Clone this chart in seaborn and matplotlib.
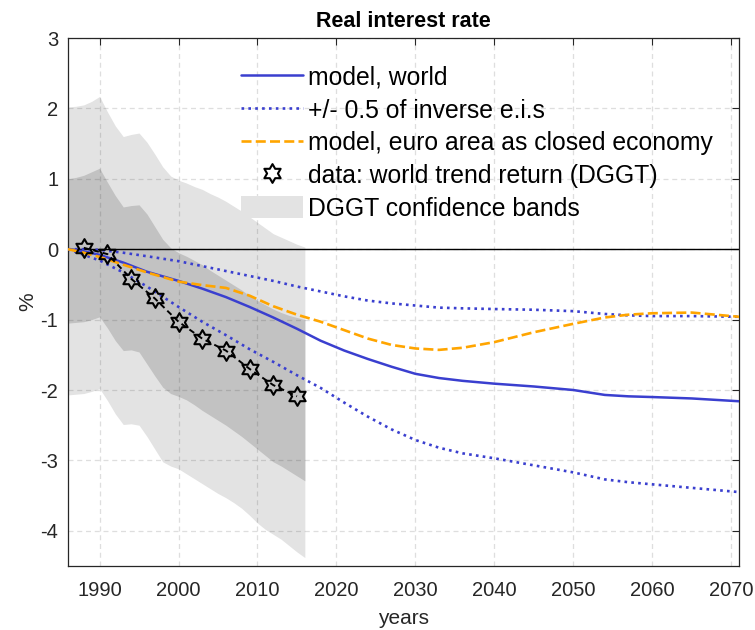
import matplotlib
matplotlib.use("Agg")
import matplotlib.pyplot as plt
import seaborn as sns
from matplotlib.path import Path
from matplotlib.lines import Line2D
from matplotlib.patches import Patch

# ---- data -------------------------------------------------------------
band_years = list(range(1986, 2017))
outer_hi = [2.02, 2.03, 2.05, 2.10, 2.17, 1.95, 1.75, 1.60, 1.63, 1.65, 1.52,
            1.35, 1.17, 1.04, 0.98, 0.94, 0.89, 0.85, 0.79, 0.74, 0.68, 0.61,
            0.54, 0.46, 0.38, 0.30, 0.22, 0.17, 0.12, 0.07, 0.03]
inner_hi = [1.00, 1.02, 1.05, 1.10, 1.15, 0.95, 0.76, 0.60, 0.62, 0.63, 0.50,
            0.32, 0.14, 0.02, -0.05, -0.10, -0.16, -0.22, -0.30, -0.37, -0.44,
            -0.51, -0.58, -0.66, -0.73, -0.79, -0.85, -0.90, -0.94, -0.97, -1.00]
inner_lo = [-1.05, -1.04, -1.03, -1.00, -0.96, -1.12, -1.30, -1.44, -1.43, -1.46,
            -1.63, -1.80, -1.96, -2.05, -2.09, -2.14, -2.21, -2.29, -2.36, -2.43,
            -2.50, -2.58, -2.66, -2.75, -2.84, -2.93, -3.02, -3.08, -3.15, -3.22, -3.29]
outer_lo = [-2.07, -2.06, -2.05, -2.02, -1.98, -2.15, -2.34, -2.49, -2.48, -2.50,
            -2.66, -2.84, -3.02, -3.08, -3.12, -3.19, -3.26, -3.33, -3.40, -3.47,
            -3.53, -3.60, -3.68, -3.78, -3.89, -3.98, -4.05, -4.12, -4.21, -4.30, -4.38]

model_years = [1986, 1988, 1990, 1993, 1996, 2000, 2003, 2006, 2009, 2012, 2015,
               2018, 2021, 2024, 2027, 2030, 2033, 2036, 2040, 2045, 2050, 2054,
               2057, 2060, 2065, 2071]
world = [0.00, -0.03, -0.08, -0.19, -0.32, -0.45, -0.56, -0.68, -0.82, -0.97, -1.13,
         -1.30, -1.44, -1.56, -1.67, -1.77, -1.83, -1.87, -1.91, -1.95, -2.00, -2.07,
         -2.09, -2.10, -2.12, -2.16]
world_hi_eis = [0.00, 0.00, -0.01, -0.05, -0.10, -0.17, -0.24, -0.31, -0.38, -0.45,
                -0.53, -0.60, -0.67, -0.73, -0.77, -0.80, -0.83, -0.84, -0.85, -0.86,
                -0.88, -0.92, -0.94, -0.95, -0.95, -0.96]
world_lo_eis = [0.00, -0.08, -0.16, -0.33, -0.53, -0.82, -1.03, -1.22, -1.42, -1.60,
                -1.79, -1.97, -2.18, -2.38, -2.56, -2.71, -2.82, -2.90, -2.97, -3.07,
                -3.17, -3.27, -3.31, -3.34, -3.39, -3.45]
euro_closed = [0.00, -0.05, -0.11, -0.22, -0.33, -0.46, -0.51, -0.55, -0.66, -0.81,
               -0.93, -1.03, -1.15, -1.27, -1.36, -1.41, -1.43, -1.40, -1.32, -1.18,
               -1.06, -0.97, -0.93, -0.91, -0.90, -0.96]

dggt_years = [1988, 1991, 1994, 1997, 2000, 2003, 2006, 2009, 2012, 2015]
dggt_trend = [0.02, -0.07, -0.42, -0.70, -1.03, -1.27, -1.44, -1.70, -1.93, -2.09]

labels = ["model, world", "+/- 0.5 of inverse e.i.s",
          "model, euro area as closed economy",
          "data: world trend return (DGGT)", "DGGT confidence bands"]

# ---- style ------------------------------------------------------------
sns.set_theme(style="white")
plt.rcParams["font.family"] = ["Liberation Sans", "DejaVu Sans"]
plt.rcParams["axes.unicode_minus"] = False

blue = "#3a3fcf"
orange = "#ffa500"
light_band = "#e3e3e3"
dark_band = "#c2c2c2"
axis_col = "#262626"

hexagram = Path.unit_regular_star(6, 0.577)
dots = (0, (1, 1.6))
dashes = (0, (3.8, 1.6))

fig = plt.figure(figsize=(7.55, 6.3), dpi=100)
ax = fig.add_axes([68 / 755, 1 - 566 / 630, 671 / 755, 528 / 630])

# confidence bands
ax.fill_between(band_years, outer_lo, outer_hi, color=light_band, lw=0, zorder=1)
ax.fill_between(band_years, inner_lo, inner_hi, color=dark_band, lw=0, zorder=1.1)

ax.axhline(0, color="black", lw=1.0, zorder=1.8)

# model paths
sns.lineplot(x=model_years, y=world, ax=ax, color=blue, lw=1.8, zorder=3)
sns.lineplot(x=model_years, y=world_hi_eis, ax=ax, color=blue, lw=1.9,
             linestyle=dots, zorder=3)
sns.lineplot(x=model_years, y=world_lo_eis, ax=ax, color=blue, lw=1.9,
             linestyle=dots, zorder=3)
sns.lineplot(x=model_years, y=euro_closed, ax=ax, color=orange, lw=1.9,
             linestyle=dashes, zorder=3)

# data with markers
sns.lineplot(x=dggt_years, y=dggt_trend, ax=ax, color="black", lw=1.4,
             linestyle=(0, (3, 2)), marker=hexagram, markersize=13.5,
             markerfacecolor="none", markeredgecolor="black",
             markeredgewidth=1.5, zorder=4)

ax.set_xlim(1986, 2071)
ax.set_ylim(-4.5, 3)
ax.set_xticks(range(1990, 2071, 10))
ax.set_yticks(range(-4, 4))

ax.grid(True, color=axis_col, alpha=0.15, linestyle=(0, (4, 3)), lw=0.9)
ax.set_axisbelow("line")

for s in ax.spines.values():
    s.set_color(axis_col)
    s.set_linewidth(0.9)
    s.set_visible(True)

ax.tick_params(axis="both", direction="in", top=True, right=True, length=5,
               width=0.8, color=axis_col, labelcolor=axis_col, labelsize=14.5)
ax.tick_params(axis="x", pad=11)
ax.tick_params(axis="y", pad=7)

ax.set_title("Real interest rate", fontsize=15.5, fontweight="bold", pad=8,
             color="black")
ax.set_xlabel("years", fontsize=15, color=axis_col, labelpad=6)
ax.set_ylabel("%", fontsize=15, color=axis_col, labelpad=2)

handles = [
    Line2D([], [], color=blue, lw=1.8),
    Line2D([], [], color=blue, lw=1.9, linestyle=dots),
    Line2D([], [], color=orange, lw=1.9, linestyle=dashes),
    Line2D([], [], color="black", ls="none", marker=hexagram, markersize=13.5,
           markerfacecolor="none", markeredgecolor="black", markeredgewidth=1.5),
    Patch(facecolor=light_band, edgecolor="none"),
]
leg = ax.legend(handles, labels, loc="upper left", bbox_to_anchor=(0.258, 0.948),
                frameon=False, fontsize=17.8, borderpad=0, borderaxespad=0,
                handlelength=2.5, handleheight=1.0, handletextpad=0.22,
                labelspacing=0.33)
for t in leg.get_texts():
    t.set_color("black")

fig.savefig("out.png", dpi=100)
